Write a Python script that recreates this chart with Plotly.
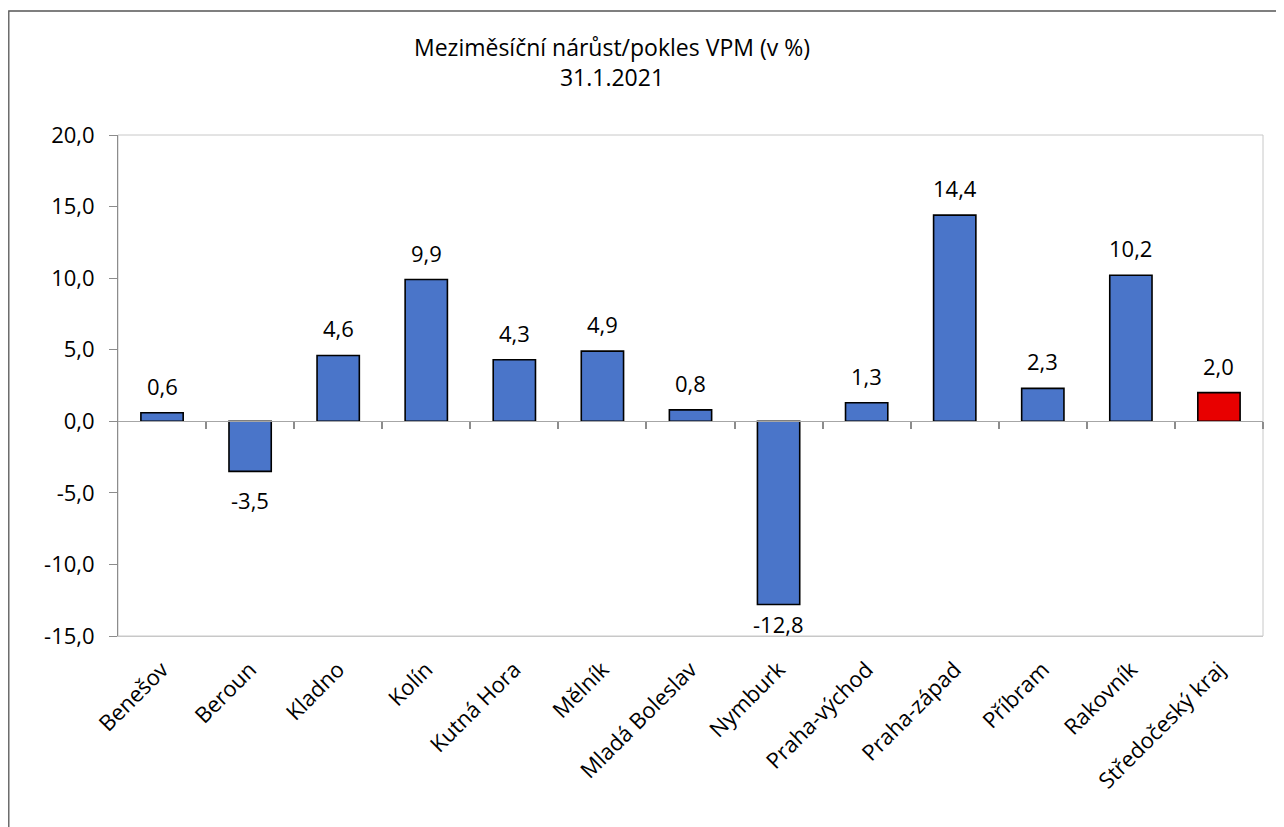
import plotly.graph_objects as go

categories = ["Benešov", "Beroun", "Kladno", "Kolín", "Kutná Hora", "Mělník",
              "Mladá Boleslav", "Nymburk", "Praha-východ", "Praha-západ",
              "Příbram", "Rakovník", "Středočeský kraj"]
values = [0.6, -3.5, 4.6, 9.9, 4.3, 4.9, 0.8, -12.8, 1.3, 14.4, 2.3, 10.2, 2.0]
bar_colors = ["#4a75c9"] * 12 + ["#e80000"]
y_ticks = [-15, -10, -5, 0, 5, 10, 15, 20]
y_ticktext = ["-15,0", "-10,0", "-5,0", "0,0", "5,0", "10,0", "15,0", "20,0"]
title_lines = ["Meziměsíční nárůst/pokles VPM (v %)", "31.1.2021"]

# page body has an 8px margin; figure is sized to fit inside the window
OFF = 8
W, H = 1284 - OFF, 827 - OFF
ML, MR, MT, MB = 118 - OFF, 21, 135 - OFF, 191
plot_w = W - ML - MR
plot_h = H - MT - MB
ymin, ymax = -15, 20
px_per_unit = plot_h / (ymax - ymin)
n = len(categories)
xrange_ = [-0.5, n - 0.5]
boundaries = [i + 0.5 for i in range(n)]

FONT = "Open Sans"

fig = go.Figure()
fig.add_trace(go.Bar(
    x=categories, y=values,
    marker=dict(color=bar_colors, line=dict(color="black", width=1.6)),
    width=0.48, hoverinfo="x+y", showlegend=False,
))
# invisible helper trace carrying the zero-line axis (ticks between categories)
fig.add_trace(go.Bar(
    x=list(range(n)), y=values, xaxis="x2", width=0.48, opacity=0,
    marker=dict(color="rgba(0,0,0,0)", line=dict(width=0)),
    hoverinfo="skip", showlegend=False,
))

annotations = []
for c, v in zip(categories, values):
    label = f"{v:.1f}".replace(".", ",")
    if v >= 0:
        shift = 27
    else:
        bar_px = -v * px_per_unit
        room = (0 - ymin) * px_per_unit - bar_px - 12
        shift = -min(29, room)
    annotations.append(dict(
        x=c, y=v, xref="x", yref="y", text=label, showarrow=False,
        yanchor="middle", yshift=shift,
        font=dict(family=FONT, size=22, color="black"),
    ))

annotations.append(dict(
    x=(612 - OFF - ML) / plot_w, y=1 + (MT - (62 - OFF)) / plot_h,
    xref="paper", yref="paper",
    text="<br>".join(title_lines), showarrow=False, xanchor="center", yanchor="middle",
    font=dict(family=FONT, size=23, color="black"),
))

fig.update_layout(
    width=W, height=H,
    margin=dict(l=ML, r=MR, t=MT, b=MB),
    paper_bgcolor="white", plot_bgcolor="white",
    separators=", ",
    annotations=annotations,
    xaxis=dict(
        type="category", categoryorder="array", categoryarray=categories,
        range=xrange_,
        showgrid=False, showline=True, linecolor="#c8c8c8", linewidth=1,
        ticks="", tickangle=-45, ticklabelstandoff=11,
        tickfont=dict(family=FONT, size=22, color="black"),
        zeroline=False,
    ),
    xaxis2=dict(
        type="linear", range=xrange_,
        overlaying="x", anchor="free", position=(0 - ymin) / (ymax - ymin),
        side="bottom", showticklabels=False, showgrid=False, zeroline=False,
        tickmode="array", tickvals=boundaries,
        showline=True, linecolor="#a6a6a6", linewidth=1,
        ticks="outside", ticklen=7, tickwidth=1.5, tickcolor="#8c8c8c",
    ),
    yaxis=dict(
        range=[ymin, ymax], tickvals=y_ticks, ticktext=y_ticktext,
        showgrid=False, zeroline=False,
        showline=True, linecolor="#8c8c8c", linewidth=1,
        ticks="outside", ticklen=8, tickcolor="#8c8c8c",
        ticklabelstandoff=10,
        tickfont=dict(family=FONT, size=22, color="black"),
    ),
    shapes=[
        dict(type="rect", xref="paper", yref="paper", x0=0, x1=1, y0=0, y1=1,
             line=dict(color="#c8c8c8", width=1), layer="below"),
        dict(type="rect", xref="paper", yref="paper",
             x0=(0.8 - ML) / plot_w, x1=(W + 10 - ML) / plot_w,
             y0=-(H + 10 - MT - plot_h) / plot_h, y1=1 + (MT - 3) / plot_h,
             line=dict(color="#555555", width=1.3), layer="below"),
    ],
)

fig.write_html("out.html")
